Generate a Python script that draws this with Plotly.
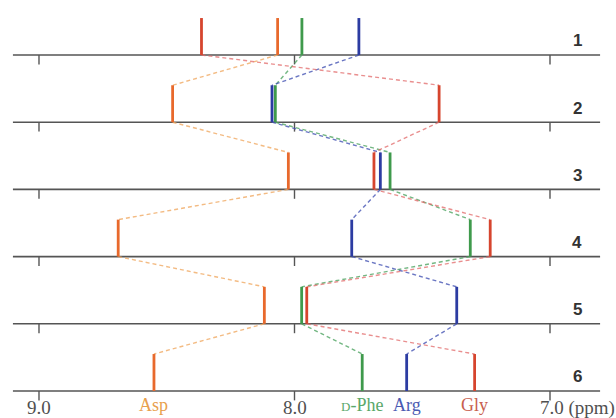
import plotly.graph_objects as go

# Chemical shifts (ppm) for each residue, rows 1..6
rows = [1, 2, 3, 4, 5, 6]
asp = [8.066, 8.477, 8.024, 8.690, 8.118, 8.550]
phe = [7.971, 8.075, 7.626, 7.312, 7.972, 7.735]
arg = [7.748, 8.088, 7.664, 7.776, 7.365, 7.561]
gly = [8.364, 7.434, 7.689, 7.234, 7.952, 7.295]
residues = ["Asp", "<span style='font-size:13px'>D</span>-Phe", "Arg", "Gly"]
tick_vals = [9.0, 8.0, 7.0]
tick_text = ["9.0", "8.0", "7.0 (ppm)"]

series = [
    (asp, "#e8692c", "rgba(240,170,100,0.8)", "#e8a04c"),
    (phe, "#3f9a4c", "rgba(80,165,100,0.8)", "#5aa86a"),
    (arg, "#2c3ca2", "rgba(70,85,180,0.8)", "#4b5ab2"),
    (gly, "#d6452e", "rgba(225,105,105,0.75)", "#c8604e"),
]

H = 0.55       # stick height in row units
TICK = 0.14
X0, X1 = 9.102, 6.804

fig = go.Figure()

# baselines and ticks
bx, by = [], []
tx, ty = [], []
for r in rows:
    bx += [X0, X1, None]
    by += [r, r, None]
    for t in tick_vals:
        tx += [t, t, None]
        ty += [r, r + TICK, None]
fig.add_trace(go.Scatter(x=bx, y=by, mode="lines", line=dict(color="#555555", width=1.6), hoverinfo="skip"))
fig.add_trace(go.Scatter(x=tx, y=ty, mode="lines", line=dict(color="#555555", width=1.4), hoverinfo="skip"))

# dashed connectors
for vals, sc, dc, lc in series:
    dx, dy = [], []
    for i in range(len(rows) - 1):
        dx += [vals[i], vals[i + 1], None]
        dy += [rows[i], rows[i + 1] - H, None]
    fig.add_trace(go.Scatter(x=dx, y=dy, mode="lines",
                             line=dict(color=dc, width=1.4, dash="4px,3px"), hoverinfo="skip"))

# sticks
for vals, sc, dc, lc in series:
    sx, sy = [], []
    for v, r in zip(vals, rows):
        sx += [v, v, None]
        sy += [r, r - H, None]
    fig.add_trace(go.Scatter(x=sx, y=sy, mode="lines", line=dict(color=sc, width=2.8), hoverinfo="skip"))

serif = "Liberation Serif, Times New Roman, serif"
ann = []
for r in rows:
    ann.append(dict(x=6.894, y=r - 0.21, text=f"<b>{r}</b>", showarrow=False,
                    font=dict(family="Liberation Sans, Arial", size=17, color="#333333"),
                    xanchor="center", yanchor="middle"))
for t, s in zip(tick_vals, tick_text):
    if "(" in s:
        ann.append(dict(x=t, y=6.25, text=s, showarrow=False, xshift=-12,
                        font=dict(family=serif, size=19, color="#505050"),
                        xanchor="left", yanchor="middle"))
    else:
        ann.append(dict(x=t, y=6.25, text=s, showarrow=False,
                        font=dict(family=serif, size=19, color="#505050"),
                        xanchor="center", yanchor="middle"))
for (vals, sc, dc, lc), name in zip(series, residues):
    ann.append(dict(x=vals[-1], y=6.21, text=name, showarrow=False,
                    font=dict(family=serif, size=18, color=lc),
                    xanchor="center", yanchor="middle"))

fig.update_layout(
    width=616, height=418,
    margin=dict(l=0, r=0, t=0, b=0),
    paper_bgcolor="white", plot_bgcolor="white",
    showlegend=False,
    xaxis=dict(range=[9.1526, 6.7417], visible=False, fixedrange=True),
    yaxis=dict(range=[6.402, 0.1815], visible=False, fixedrange=True),
    annotations=ann,
)

fig.write_html("out.html", config={"displayModeBar": False},
               post_script="document.body.style.margin='0';document.body.style.overflow='hidden';")
